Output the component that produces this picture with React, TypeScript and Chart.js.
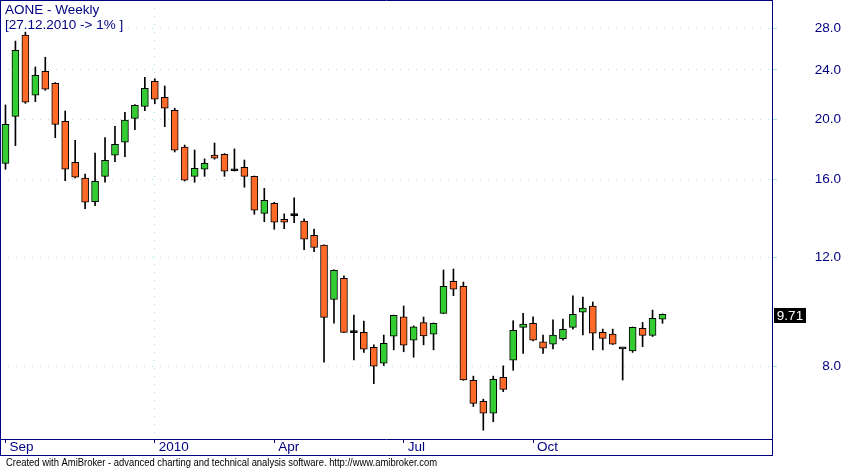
import React, { useEffect, useRef } from 'react';
import { Chart, registerables } from 'chart.js';

Chart.register(...registerables);

// ---- data ----
const weeks = [
  '21.09.2009', '28.09.2009', '05.10.2009', '12.10.2009', '19.10.2009', '26.10.2009', '02.11.2009', '09.11.2009',
  '16.11.2009', '23.11.2009', '30.11.2009', '07.12.2009', '14.12.2009', '21.12.2009', '28.12.2009', '04.01.2010',
  '11.01.2010', '18.01.2010', '25.01.2010', '01.02.2010', '08.02.2010', '15.02.2010', '22.02.2010', '01.03.2010',
  '08.03.2010', '15.03.2010', '22.03.2010', '29.03.2010', '05.04.2010', '12.04.2010', '19.04.2010', '26.04.2010',
  '03.05.2010', '10.05.2010', '17.05.2010', '24.05.2010', '31.05.2010', '07.06.2010', '14.06.2010', '21.06.2010',
  '28.06.2010', '05.07.2010', '12.07.2010', '19.07.2010', '26.07.2010', '02.08.2010', '09.08.2010', '16.08.2010',
  '23.08.2010', '30.08.2010', '06.09.2010', '13.09.2010', '20.09.2010', '27.09.2010', '04.10.2010', '11.10.2010',
  '18.10.2010', '25.10.2010', '01.11.2010', '08.11.2010', '15.11.2010', '22.11.2010', '29.11.2010', '06.12.2010',
  '13.12.2010', '20.12.2010', '27.12.2010',
];

const opens = [
  16.98, 20.2, 27.3, 21.85, 23.88, 22.84, 19.84, 17.05, 16.07, 14.73, 16.18, 17.5, 18.36, 20.06, 20.97, 23.01,
  21.69, 20.66, 18.04, 16.18, 16.61, 17.51, 17.56, 16.52, 16.73, 16.18, 14.11, 14.64, 13.8, 13.99, 13.71, 13.01,
  12.54, 10.26, 11.09, 9.07, 9.08, 8.59, 8.1, 8.95, 9.62, 8.82, 9.41, 9.02, 9.74, 10.97, 10.77, 7.6,
  7.03, 6.73, 7.69, 8.19, 9.25, 9.39, 8.77, 8.69, 8.87, 9.25, 9.78, 10.01, 9.08, 9.02, 8.54, 8.48,
  9.22, 8.98, 9.53,
];
const highs = [
  21.08, 26.7, 27.6, 24.26, 25.15, 22.9, 20.61, 18.49, 16.32, 17.64, 18.67, 19.48, 20.51, 21.1, 23.35, 23.23,
  22.61, 20.82, 18.17, 17.84, 17.26, 18.31, 17.6, 17.91, 17.19, 16.2, 15.48, 14.7, 14.08, 14.94, 13.82, 13.31,
  12.55, 11.45, 11.19, 9.68, 9.47, 8.67, 8.99, 9.68, 10.01, 9.3, 9.61, 9.4, 11.44, 11.48, 10.94, 7.72,
  7.09, 7.72, 8.02, 9.48, 9.74, 9.62, 8.99, 9.51, 9.54, 10.39, 10.35, 10.16, 9.19, 9.19, 8.55, 9.26,
  9.42, 9.86, 9.72,
];
const lows = [
  16.61, 18.13, 21.2, 21.34, 22.25, 18.67, 15.92, 16.08, 14.35, 14.51, 15.83, 17.08, 17.4, 19.23, 20.64, 21.18,
  19.45, 17.71, 15.9, 15.83, 16.18, 17.24, 16.18, 16.5, 15.54, 14.06, 13.68, 13.3, 13.33, 13.63, 12.33, 12.24,
  8.13, 9.39, 9.07, 8.2, 8.43, 7.51, 8.03, 8.51, 8.45, 8.28, 8.67, 8.51, 9.73, 10.4, 7.6, 6.9,
  6.32, 6.52, 7.29, 7.89, 8.4, 8.8, 8.4, 8.54, 8.82, 9.19, 8.99, 8.51, 8.51, 8.68, 7.61, 8.43,
  8.61, 8.94, 9.39,
];
const closes = [
  19.62, 25.8, 21.29, 23.52, 22.34, 19.62, 16.61, 16.13, 14.7, 15.89, 17.17, 18.22, 19.92, 21.05, 22.42, 21.53,
  20.82, 17.82, 15.95, 16.67, 16.98, 17.3, 16.49, 16.52, 16.18, 14.27, 14.81, 13.65, 13.65, 13.99, 12.82, 12.44,
  9.6, 11.42, 9.08, 9.07, 8.53, 8.01, 8.72, 9.67, 8.66, 9.27, 8.96, 9.39, 10.77, 10.65, 7.61, 6.98,
  6.73, 7.63, 7.35, 9.15, 9.36, 8.82, 8.56, 8.99, 9.18, 9.71, 9.93, 9.05, 8.88, 8.69, 8.54, 9.25,
  8.98, 9.56, 9.71,
];

const yTickValues = [8, 12, 16, 20, 24, 28];
const xTickIndex = [0, 15, 27, 40, 53];
const xTickLabels = ['Sep', '2010', 'Apr', 'Jul', 'Oct'];
const titleLines = ['AONE - Weekly', '[27.12.2010 -> 1% ]'];
const footerText =
  'Created with AmiBroker - advanced charting and technical analysis software. http://www.amibroker.com';

// ---- styles ----
const NAVY = '#000080';
const GRID = '#A6E6E6';
const UP = '#33CC33';
const DOWN = '#FF6A28';
const FONT = '"Liberation Sans", Arial, sans-serif';
const W = 841;
const H = 468;

const overlay = {
  id: 'overlay',
  afterDraw(chart: any) {
    const ctx = chart.ctx as CanvasRenderingContext2D;
    const { right, bottom } = chart.chartArea;
    ctx.save();
    ctx.strokeStyle = NAVY;
    ctx.lineWidth = 1;
    ctx.beginPath();
    ctx.moveTo(0.5, 0);
    ctx.lineTo(0.5, 456);
    ctx.moveTo(0, 0.5);
    ctx.lineTo(right + 1, 0.5);
    ctx.moveTo(right + 0.5, 0);
    ctx.lineTo(right + 0.5, 456);
    ctx.moveTo(0, bottom + 0.5);
    ctx.lineTo(right + 1, bottom + 0.5);
    ctx.moveTo(0, 455.5);
    ctx.lineTo(right + 1, 455.5);
    ctx.stroke();

    // title
    ctx.fillStyle = NAVY;
    ctx.font = `13.5px ${FONT}`;
    ctx.textAlign = 'left';
    ctx.textBaseline = 'alphabetic';
    ctx.fillText(titleLines[0], 5, 14);
    ctx.fillText(titleLines[1], 5, 29);

    // footer
    ctx.fillStyle = '#000';
    ctx.font = `11px ${FONT}`;
    ctx.fillText(footerText, 6, 465.5, 431);

    // last price box
    const last = closes[closes.length - 1];
    const y = chart.scales.y.getPixelForValue(last);
    ctx.fillStyle = '#000';
    ctx.fillRect(right + 2, Math.round(y) - 6, 32, 15);
    ctx.fillStyle = '#fff';
    ctx.font = `13.5px ${FONT}`;
    ctx.textAlign = 'center';
    ctx.textBaseline = 'middle';
    ctx.fillText(last.toFixed(2), right + 18, Math.round(y) + 2);
    ctx.restore();
  },
};

export default function App() {
  const ref = useRef<HTMLCanvasElement | null>(null);

  useEffect(() => {
    if (!ref.current) return;
    const idx = opens.map((_, i) => i);
    const bodyColors = idx.map((i) =>
      closes[i] > opens[i] ? UP : closes[i] < opens[i] ? DOWN : '#000'
    );
    const chart = new Chart(ref.current, {
      type: 'bar',
      data: {
        labels: weeks,
        datasets: [
          {
            label: 'body',
            data: idx.map((i) => ({ x: i, y: [opens[i], closes[i]] })) as any,
            backgroundColor: bodyColors,
            borderColor: '#000',
            borderWidth: 1,
            borderSkipped: false,
            barThickness: 7,
            minBarLength: 2,
            grouped: false,
            order: 0,
          } as any,
          {
            label: 'wick',
            data: idx.map((i) => ({ x: i, y: [lows[i], highs[i]] })) as any,
            backgroundColor: '#000',
            borderWidth: 0,
            barThickness: 1,
            grouped: false,
            order: 1,
          } as any,
        ],
      },
      options: {
        responsive: false,
        devicePixelRatio: 1,
        animation: false,
        layout: { padding: 0, autoPadding: false } as any,
        plugins: {
          legend: { display: false },
          tooltip: { enabled: false },
          title: { display: false },
        },
        scales: {
          x: {
            type: 'linear',
            min: -0.55,
            max: 77.0,
            offset: false,
            afterBuildTicks: (s: any) => {
              s.ticks = xTickIndex.map((v) => ({ value: v }));
            },
            afterFit: (s: any) => {
              s.height = 29;
              s.paddingLeft = 0;
              s.paddingRight = 0;
            },
            ticks: {
              autoSkip: false,
              maxRotation: 0,
              align: 'start',
              labelOffset: 4,
              padding: -4,
              color: NAVY,
              font: { family: FONT, size: 13.5 },
              callback: (_v: any, i: number) => xTickLabels[i],
            },
            grid: {
              offset: false,
              color: (c: any) => (c.tick && c.tick.value === 15 ? GRID : 'rgba(0,0,0,0)'),
              tickColor: NAVY,
              tickLength: 4,
              drawTicks: true,
            },
            border: { display: false, dash: [1, 7] },
          } as any,
          y: {
            type: 'logarithmic',
            position: 'right',
            min: 6.117,
            max: 31.09,
            afterBuildTicks: (s: any) => {
              s.ticks = yTickValues.map((v) => ({ value: v }));
            },
            afterFit: (s: any) => {
              s.width = W - 772;
              s.paddingTop = 0;
              s.paddingBottom = 0;
            },
            ticks: {
              autoSkip: false,
              crossAlign: 'far',
              padding: 35,
              color: NAVY,
              font: { family: FONT, size: 13.5 },
              callback: (v: any) => Number(v).toFixed(1),
            },
            grid: {
              color: GRID,
              tickColor: GRID,
              tickLength: 5,
              drawTicks: true,
            },
            border: { display: false, dash: [1, 7] },
          } as any,
        },
      },
      plugins: [overlay],
    });
    return () => chart.destroy();
  }, []);

  return (
    <div
      style={{
        position: 'fixed',
        left: 0,
        top: 0,
        width: W,
        height: H,
        background: '#fff',
      }}
    >
      <canvas ref={ref} width={W} height={H} style={{ width: W, height: H, display: 'block' }} />
    </div>
  );
}
